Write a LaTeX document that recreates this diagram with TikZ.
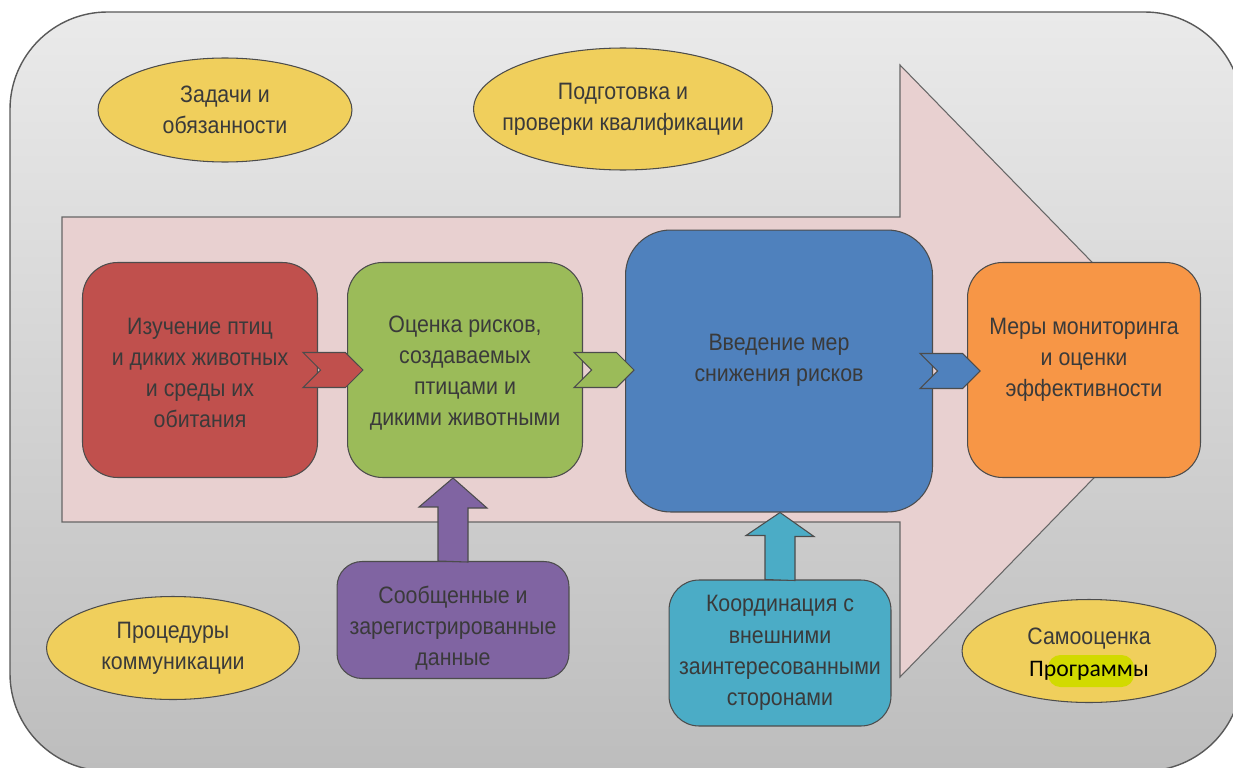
\documentclass[tikz,border=0pt]{standalone}
\usepackage{fontspec}
\setmainfont{Liberation Sans}[FakeStretch=0.9]
\newfontfamily\calibrifont{Carlito}
\usetikzlibrary{shapes.geometric, shapes.symbols, positioning}

\definecolor{bgTop}{HTML}{EAEAEA}
\definecolor{bgBot}{HTML}{BDBDBD}
\definecolor{pinkC}{HTML}{E8D0D0}
\definecolor{redC}{HTML}{C0504D}
\definecolor{greenC}{HTML}{9BBB59}
\definecolor{blueC}{HTML}{4F81BD}
\definecolor{orangeC}{HTML}{F79646}
\definecolor{purpleC}{HTML}{8064A2}
\definecolor{tealC}{HTML}{4BACC6}
\definecolor{ovalC}{HTML}{F0CF5C}
\definecolor{hlC}{HTML}{D2DA00}
\definecolor{textC}{HTML}{3A3A3A}

\begin{document}
\begin{tikzpicture}[x=0.02cm, y=-0.02cm,
    txt/.style={align=center, text=textC, inner sep=0pt, font=\fontsize{13.5}{17.8}\selectfont},
    box/.style={txt, draw=black!70, line width=0.6pt, rounded corners=0.7cm},
    oval/.style={txt, ellipse, draw=black!70, line width=0.6pt, fill=ovalC},
    chevron/.style={signal, signal from=west, signal to=east, draw=black!70, line width=0.6pt,
        minimum width=1.2cm, minimum height=0.7cm, inner sep=0pt},
    blockarrow/.style={draw=black!70, line width=0.6pt, line join=miter}]
\useasboundingbox (0,0) rectangle (1233,767);
\clip (0,0) rectangle (1233,767);

% background panel and the large arrow
\draw[top color=bgTop, bottom color=bgBot, draw=black!65, line width=0.8pt, rounded corners=1.95cm] (10,12) rectangle (1242,771);
\draw[draw=black!60, line width=0.6pt, fill=pinkC] (62,217) -- (900,217) -- (900,65) -- (1198,371) -- (900,677) -- (900,522) -- (62,522) -- cycle;

% ovals
\node[oval, minimum width=5.08cm, minimum height=2.08cm] (duties) at (225,110) {Задачи и\\обязанности};
\node[oval, inner xsep=-0.3cm, minimum width=5.96cm, minimum height=2.44cm] (training) at (623,109) {Подготовка и\\проверки квалификации};
\node[oval, minimum width=5.06cm, minimum height=2.06cm] (comms) at (173,648) {Процедуры\\коммуникации};
\node[oval, minimum width=5.08cm, minimum height=2.06cm] (selfcheck) at (1089,651) {};
\fill[hlC, rounded corners=0.25cm] (1048,655) rectangle (1134,687);
\node[txt] (selfcheckText) at (1089,654) {Самооценка\\{\calibrifont\color{black}Программы}};

% main steps
\node[box, fill=redC, minimum width=4.7cm, minimum height=4.3cm] (study) at (200,370) {};
\node[txt] (studyText) at (200,373) {Изучение птиц\\и диких животных\\и среды их\\обитания};
\node[box, fill=greenC, minimum width=4.7cm, minimum height=4.3cm] (risk) at (465,370) {};
\node[txt] (riskText) at (465,373) {Оценка рисков,\\создаваемых\\птицами и\\дикими животными};
\node[box, fill=blueC, minimum width=6.14cm, minimum height=5.64cm, rounded corners=0.9cm] (mitig) at (779,371) {};
\node[txt] (mitigText) at (779,360) {Введение мер\\снижения рисков};
\node[box, fill=orangeC, minimum width=4.66cm, minimum height=4.3cm] (monitor) at (1084,370) {};
\node[txt] (monitorText) at (1084,360) {Меры мониторинга\\и оценки\\эффективности};

\node[chevron, fill=redC] (stepA) at (333,370) {};
\node[chevron, fill=greenC] (stepB) at (604,370) {};
\node[chevron, fill=blueC] (stepC) at (950,371) {};

% inputs from below
\node[box, fill=purpleC, minimum width=4.64cm, minimum height=2.34cm, rounded corners=0.5cm] (records) at (453,620) {};
\node[txt] (recordsText) at (453,628) {Сообщенные и\\зарегистрированные\\данные};
\node[box, fill=tealC, minimum width=4.44cm, minimum height=2.92cm, rounded corners=0.6cm] (stake) at (780,653) {Координация с\\внешними\\заинтересованными\\сторонами};

\draw[blockarrow, fill=purpleC] (records.north) ++(-15,0) -- ++(0,-54) -- ++(-19,0) -- (records.north |- risk.south) -- ++(34,30) -- ++(-19,0) -- ++(0,54) -- cycle;
\draw[blockarrow, fill=tealC] (stake.north) ++(-15,0) -- ++(0,-44) -- ++(-19,0) -- (stake.north |- mitig.south) -- ++(34,24) -- ++(-19,0) -- ++(0,44) -- cycle;

\end{tikzpicture}
\end{document}
